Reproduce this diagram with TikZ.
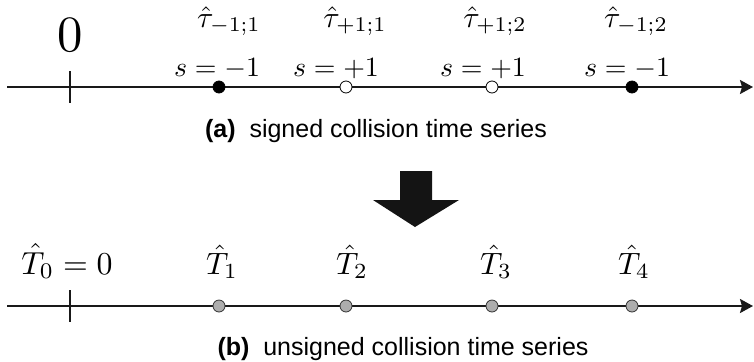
\documentclass[tikz,border=0pt]{standalone}
\usepackage{fontspec}
\usepackage{graphicx}
\newfontfamily\capfont{Liberation Sans}
\usetikzlibrary{arrows.meta}
\newcommand{\scmath}[2]{\scalebox{#1}{$#2$}}
\tikzset{
  axisline/.style={line width=2bp, draw=black!90, -{Stealth[length=13bp,width=14bp,inset=2bp]}},
  tickline/.style={line width=2bp, draw=black!90},
  fdot/.style={circle, inner sep=0pt, minimum size=12bp, fill=black, draw=black, line width=0.8bp},
  odot/.style={circle, inner sep=0pt, minimum size=12bp, fill=white, draw=black, line width=0.8bp},
  gdot/.style={circle, inner sep=0pt, minimum size=12bp, fill=black!32, draw=black!80, line width=0.8bp},
  lab/.style={anchor=base, inner sep=0pt},
  caplab/.style={anchor=base, inner sep=0pt, font=\capfont\fontsize{25bp}{30bp}\selectfont},
}
\begin{document}
\begin{tikzpicture}[x=1bp,y=-1bp]
\useasboundingbox (0,0) rectangle (754,361);
% ---- top axis (a)
\coordinate (as) at (7,87);
\coordinate (ae) at (753,87);
\draw[axisline] (as) -- (ae);
\coordinate (t0a) at (70,71);
\coordinate (t0b) at (70,103);
\draw[tickline] (t0a) -- (t0b);
\node[fdot] (a1) at (219,87) {};
\node[odot] (a2) at (346,87) {};
\node[odot] (a3) at (492,87) {};
\node[fdot] (a4) at (632,87) {};
\node[lab] (zero) at (70,51) {\scmath{5.1}{0}};
\node[lab] (s1) at (217,76) {\scmath{2.8}{s=-1}};
\node[lab] (s2) at (336,76) {\scmath{2.8}{s=+1}};
\node[lab] (s3) at (483,76) {\scmath{2.8}{s=+1}};
\node[lab] (s4) at (627,76) {\scmath{2.8}{s=-1}};
\node[lab] (u1) at (229,27) {\scmath{3}{\hat{\tau}_{-1;1}}};
\node[lab] (u2) at (355,27) {\scmath{3}{\hat{\tau}_{+1;1}}};
\node[lab] (u3) at (495,27) {\scmath{3}{\hat{\tau}_{+1;2}}};
\node[lab] (u4) at (636,27) {\scmath{3}{\hat{\tau}_{-1;2}}};
\node[caplab] (capa) at (376,137) {\textbf{(a)}\ \ signed collision time series};
% ---- big arrow
\fill[black!92] (400,171) -- (432,171) -- (432,200) -- (459,200) -- (415,227) -- (373,200) -- (400,200) -- cycle;
% ---- bottom axis (b)
\coordinate (bs) at (7,306);
\coordinate (be) at (753,306);
\draw[axisline] (bs) -- (be);
\coordinate (t1a) at (70,290);
\coordinate (t1b) at (70,322);
\draw[tickline] (t1a) -- (t1b);
\node[gdot] (b1) at (219,306) {};
\node[gdot] (b2) at (346,306) {};
\node[gdot] (b3) at (492,306) {};
\node[gdot] (b4) at (632,306) {};
\node[lab] (T0) at (67,274) {\scmath{3.2}{\hat{T}_0=0}};
\node[lab] (T1) at (222,274) {\scmath{3.1}{\hat{T}_1}};
\node[lab] (T2) at (352,274) {\scmath{3.1}{\hat{T}_2}};
\node[lab] (T3) at (496,274) {\scmath{3.1}{\hat{T}_3}};
\node[lab] (T4) at (634,274) {\scmath{3.1}{\hat{T}_4}};
\node[caplab] (capb) at (403,355) {\textbf{(b)}\ \ unsigned collision time series};
\end{tikzpicture}
\end{document}
